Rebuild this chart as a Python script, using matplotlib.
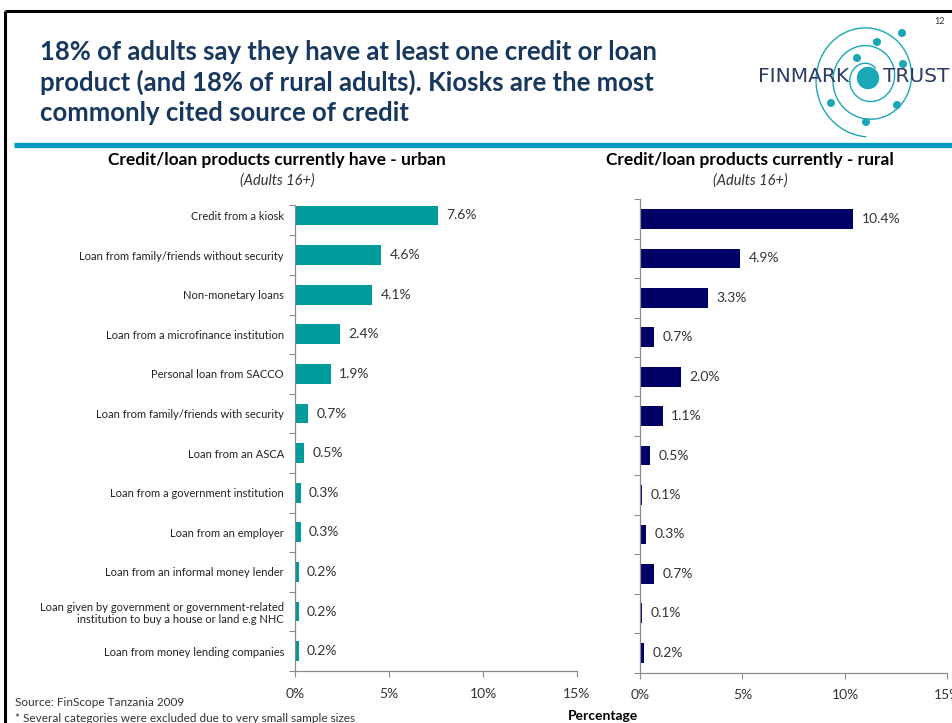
import matplotlib.pyplot as plt
import numpy as np
from matplotlib.patches import Circle

plt.rcParams['font.family'] = ['Lato', 'DejaVu Sans']

# FinScope Tanzania 2009 - credit / loan products held
categories = ["Credit from a kiosk",
              "Loan from family/friends without security",
              "Non-monetary loans",
              "Loan from a microfinance institution",
              "Personal loan from SACCO",
              "Loan from family/friends with security",
              "Loan from an ASCA",
              "Loan from a government institution",
              "Loan from an employer",
              "Loan from an informal money lender",
              "Loan given by government or government-related\ninstitution to buy a house or land e.g NHC",
              "Loan from money lending companies"]
urban = [7.6, 4.6, 4.1, 2.4, 1.9, 0.7, 0.5, 0.3, 0.3, 0.2, 0.2, 0.2]
rural = [10.4, 4.9, 3.3, 0.7, 2.0, 1.1, 0.5, 0.1, 0.3, 0.7, 0.1, 0.2]
xticks = [0, 5, 10, 15]

W, H = 953, 723
teal = '#009B9B'
navy = '#000066'
title_col = '#17375E'
axis_col = '#8C8C8C'
txt_col = '#333333'

fig = plt.figure(figsize=(W / 100, H / 100), dpi=100)

# background layer in pixel coordinates for frame, title, logo, notes
bg = fig.add_axes([0, 0, 1, 1])
bg.set_xlim(0, W)
bg.set_ylim(H, 0)
bg.axis('off')
bg.plot([5, W], [11, 11], color='black', lw=2.2, solid_capstyle='butt')
bg.plot([5, 5], [11, H], color='black', lw=2.2, solid_capstyle='butt')
bg.plot([14, W], [145, 145], color='#0099BF', lw=3.8, solid_capstyle='butt')

title_lines = ["18% of adults say they have at least one credit or loan",
               "product (and 18% of rural adults). Kiosks are the most",
               "commonly cited source of credit"]
for i, line in enumerate(title_lines):
    bg.text(40, 52 + i * 30.5, line, fontsize=18.5, fontweight='bold',
            color=title_col, va='center', ha='left')

bg.text(940, 22, "12", fontsize=6.5, ha='center', va='center', color='#333333')

# logo: spiral with small dots around a solid centre
logo_col = '#1AA7B8'
cx, cy = 868, 78
th = np.linspace(0, 2.6 * 2 * np.pi, 600)
rr = 12 + 44 * th / th[-1]
bg.plot(cx + rr * np.cos(th + 0.9), cy - rr * 1.05 * np.sin(th + 0.9),
        color=logo_col, lw=1.0)
bg.add_patch(Circle((cx, cy), 10.5, color=logo_col, zorder=3))
for dx, dy in [(34, -45), (9, -36), (-11, -20), (35, -14), (-37, 25), (29, 27), (-2, 44)]:
    bg.add_patch(Circle((cx + dx, cy + dy), 3.3, color=logo_col, zorder=3))
bg.text(758, 77, "FINMARK", fontsize=14.5, color='#2B3A67', ha='left',
        va='center', family='DejaVu Sans')
bg.text(883, 77, "TRUST", fontsize=14.5, color='#2B3A67', ha='left',
        va='center', family='DejaVu Sans')

# panel headings
bg.text(277, 160, "Credit/loan products currently have - urban", fontsize=12.5,
        fontweight='bold', ha='center', va='center', color='black')
bg.text(277, 181, "(Adults 16+)", fontsize=10.5, style='italic', ha='center',
        va='center', color=txt_col)
bg.text(750, 160, "Credit/loan products currently - rural", fontsize=12.5,
        fontweight='bold', ha='center', va='center', color='black')
bg.text(750, 181, "(Adults 16+)", fontsize=10.5, style='italic', ha='center',
        va='center', color=txt_col)

bg.text(15, 703, "Source: FinScope Tanzania 2009", fontsize=8.5, ha='left',
        va='center', color=txt_col)
bg.text(15, 718, "* Several categories were excluded due to very small sample sizes",
        fontsize=8.5, ha='left', va='center', color=txt_col)
bg.text(603, 716, "Percentage", fontsize=10, fontweight='bold', ha='center',
        va='center', color='black')


def panel(rect, values, color, ytop, labels=None):
    ax = fig.add_axes(rect)
    ypos = np.arange(len(values))
    ax.barh(ypos, values, height=0.5, color=color)
    ax.set_xlim(0, 15)
    ax.set_ylim(len(values) - 0.5, ytop)
    for y, v in zip(ypos, values):
        ax.annotate(f"{v:.1f}%", (v, y), xytext=(6, 0), textcoords='offset points',
                    va='center', ha='left', fontsize=10, color=txt_col)
    ax.set_xticks(xticks)
    ax.set_xticklabels([f"{t}%" for t in xticks], fontsize=10, color=txt_col)
    ax.set_yticks([ytop] + list(np.arange(len(values)) + 0.5))
    ax.set_yticklabels([])
    if labels is not None:
        ax.set_yticks(ypos, minor=True)
        ax.set_yticklabels(labels, minor=True, fontsize=8, color='#222222')
    ax.tick_params(axis='y', which='minor', length=0, pad=8)
    ax.tick_params(axis='y', which='major', length=4, color=axis_col, direction='out')
    ax.tick_params(axis='x', length=4, color=axis_col, pad=8)
    for s in ['top', 'right']:
        ax.spines[s].set_visible(False)
    for s in ['left', 'bottom']:
        ax.spines[s].set_color(axis_col)
        ax.spines[s].set_linewidth(0.9)
    ax.set_facecolor('none')
    return ax


panel([295 / W, 1 - 671 / H, 282 / W, 466 / H], urban, teal, -0.265, categories)
panel([640 / W, 1 - 672.5 / H, 307.5 / W, 473.2 / H], rural, navy, -0.5)

fig.savefig('out.png', dpi=100)
